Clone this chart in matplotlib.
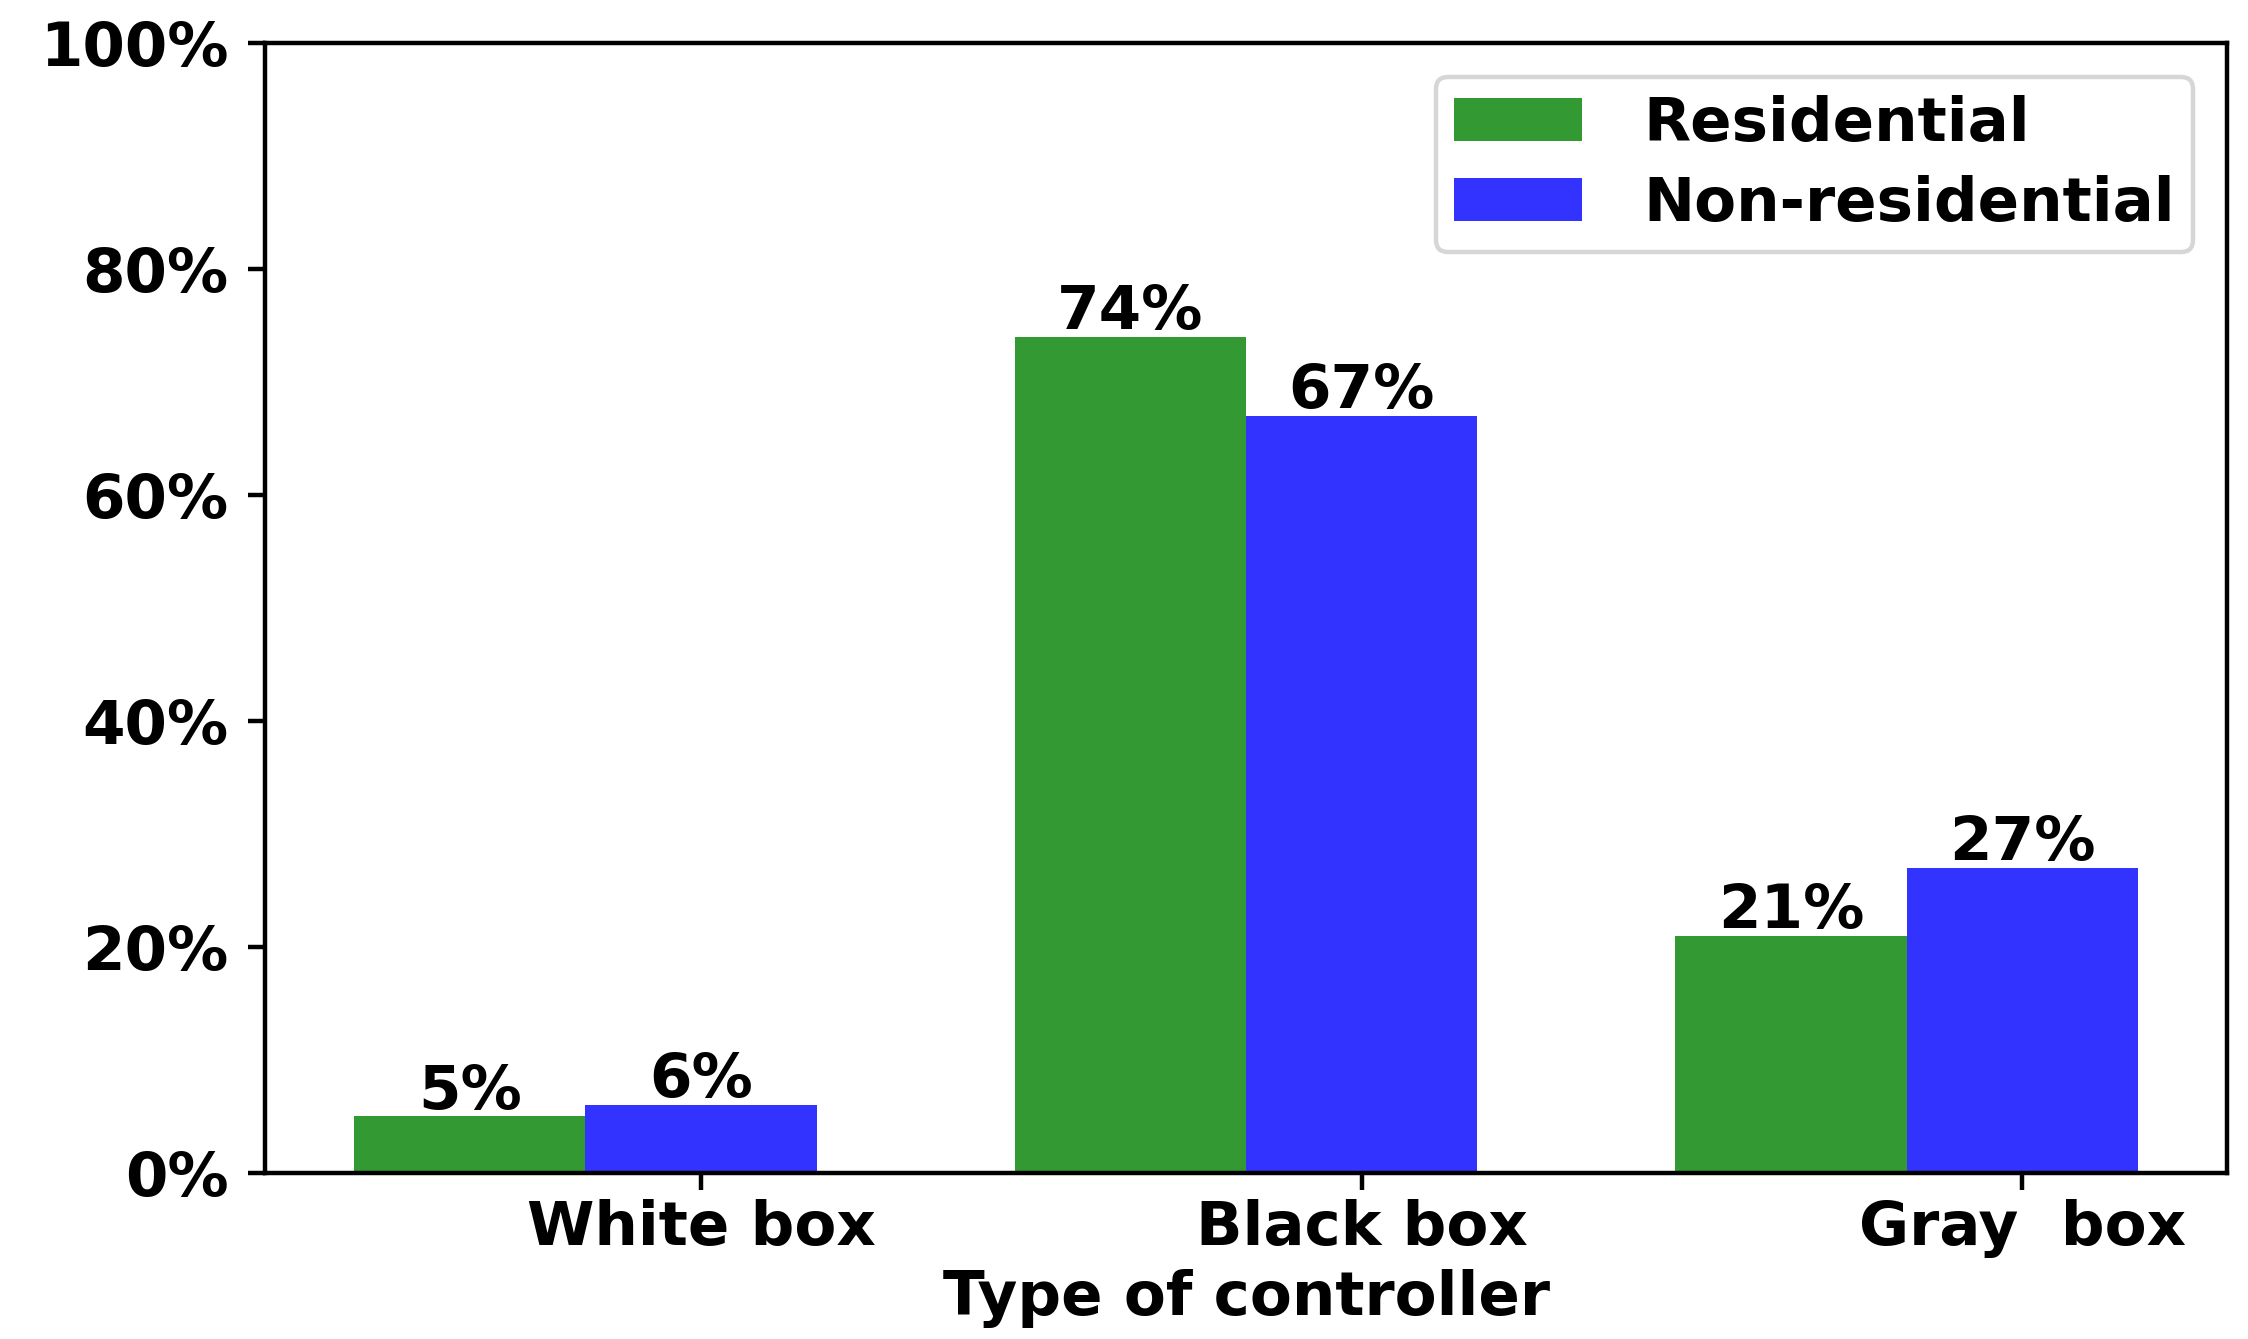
import numpy as np
import matplotlib
matplotlib.use('Agg')
import matplotlib.pyplot as plt

plt.rcParams['font.family'] = ['DejaVu Sans']
plt.rcParams['font.weight'] = 'bold'
plt.rcParams['axes.labelweight'] = 'bold'
plt.rcParams['font.size'] = 22

categories = ['White box', 'Black box', 'Gray  box']
residential = [5, 74, 21]
non_residential = [6, 67, 27]
y_ticks = [0, 20, 40, 60, 80, 100]

x = np.arange(len(categories))
width = 0.35

fig = plt.figure(figsize=(11.24, 6.695), dpi=200)
ax = fig.add_axes([0.1179, 0.124, 0.8728, 0.8439])

b1 = ax.bar(x, residential, width, color='green', alpha=0.8, label='Residential')
b2 = ax.bar(x + width, non_residential, width, color='blue', alpha=0.8, label='Non-residential')

# 柱顶百分比标注
for bars, vals in [(b1, residential), (b2, non_residential)]:
    for rect, v in zip(bars, vals):
        ax.text(rect.get_x() + rect.get_width() / 2, v + 0.7, '%d%%' % v,
                ha='center', va='baseline')

ax.set_xticks(x + width)
ax.set_xticklabels(categories)
ax.set_yticks(y_ticks)
ax.set_yticklabels(['%d%%' % t for t in y_ticks])
ax.set_ylim(0, 100)
ax.set_xlabel('Type of controller', labelpad=4)

for s in ax.spines.values():
    s.set_linewidth(1.6)
ax.tick_params(axis='both', width=1.6, length=6)
ax.tick_params(axis='y', pad=7)
ax.tick_params(axis='x', pad=3.5)

leg = ax.legend(loc='upper right', labelspacing=0.34, borderpad=0.3,
                borderaxespad=0.55, handlelength=2.1, handletextpad=1.0)
leg.get_frame().set_linewidth(1.6)

plt.savefig('out.png', dpi=200)
